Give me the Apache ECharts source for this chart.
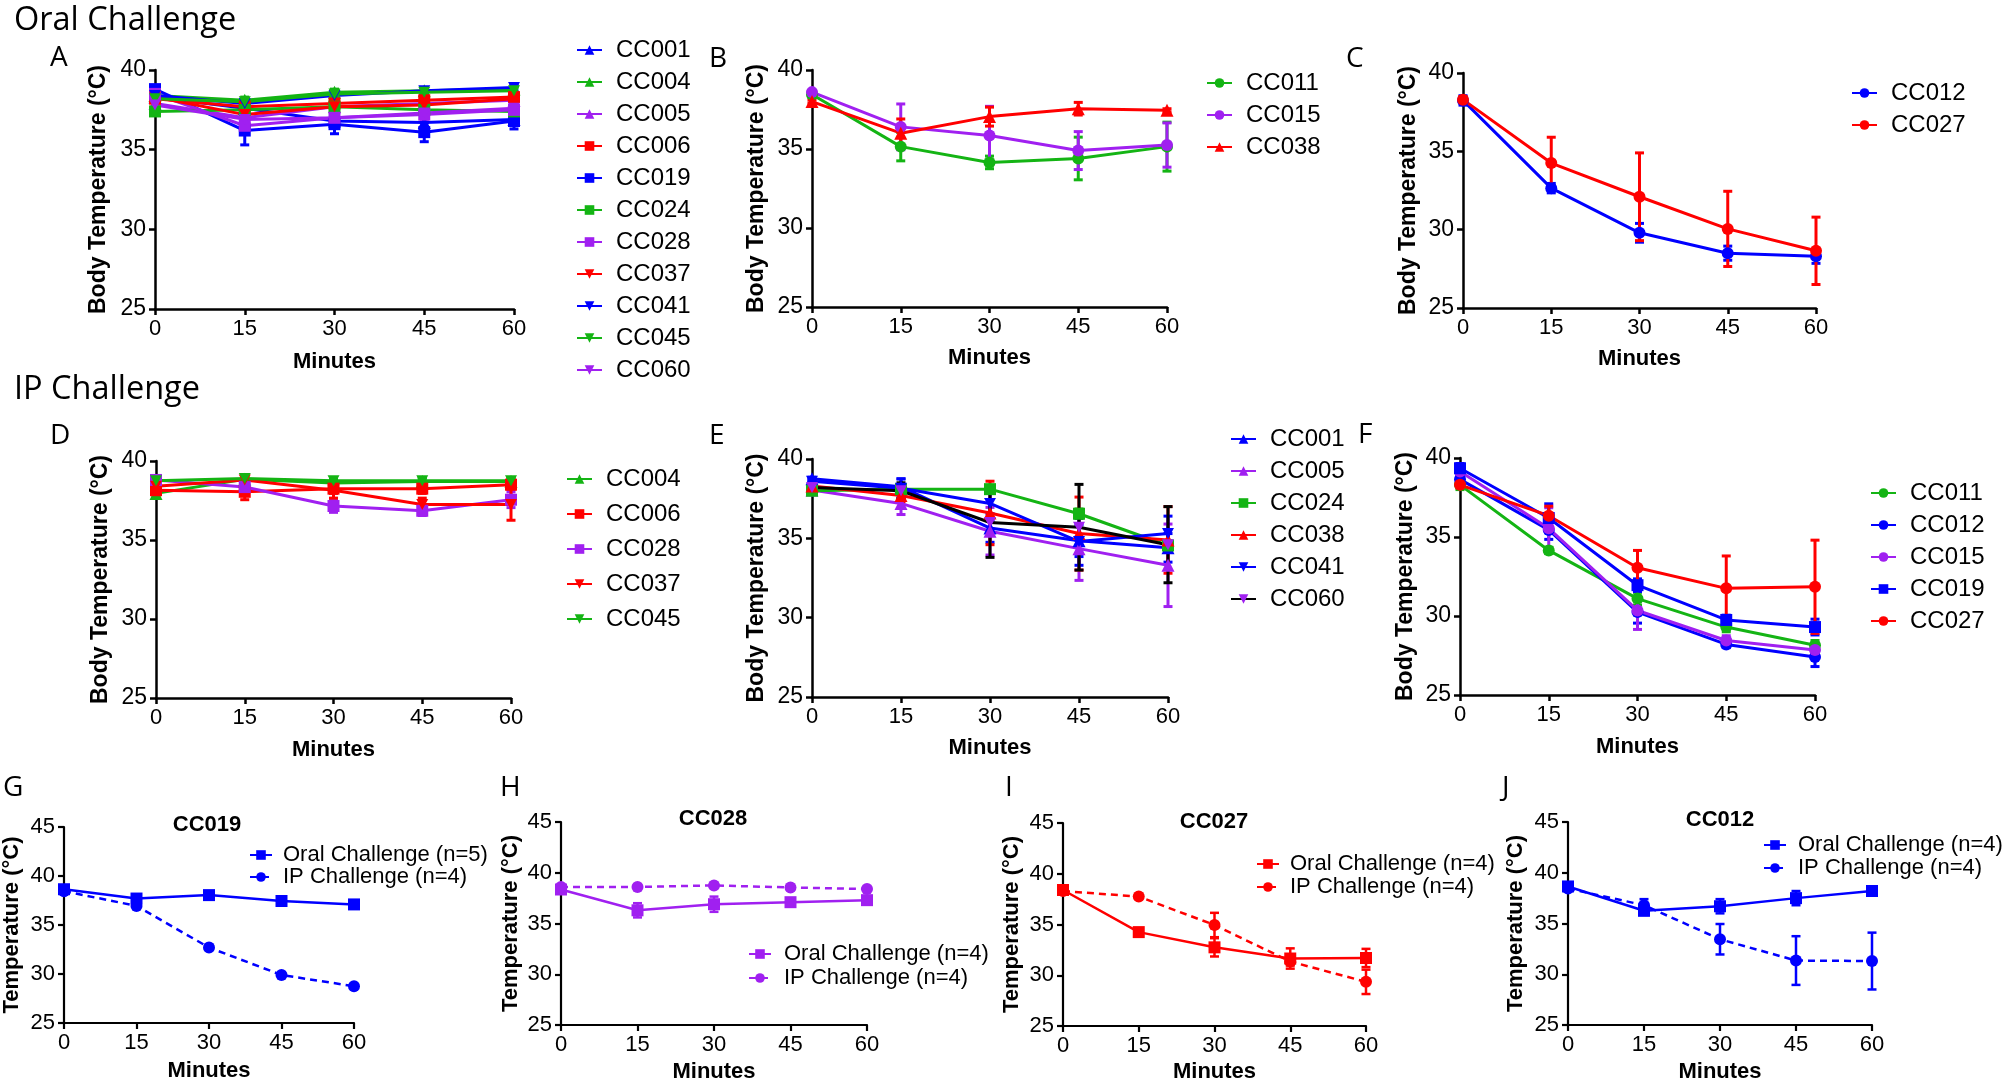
<!DOCTYPE html>
<html><head><meta charset="utf-8">
<script src="https://cdn.jsdelivr.net/npm/echarts@6/dist/echarts.min.js"></script>
<style>html,body{margin:0;padding:0;background:#fff}#c{width:2010px;height:1085px}</style>
</head><body><div id="c"></div>
<script>
// ---------------- DATA ----------------
const minutes = [0, 15, 30, 45, 60];
const xTicks = [0, 15, 30, 45, 60];

// Panel A (Oral challenge)
const A_CC001 = [38.3, 37.6, 36.8, 36.7, 36.9], A_CC001_err = [0.2, 0.3, 0.3, 0.3, 0.3];
const A_CC004 = [38.4, 38.1, 38.6, 38.7, 38.8], A_CC004_err = [0.1, 0.2, 0.2, 0.2, 0.2];
const A_CC005 = [37.9, 37.0, 37.7, 37.9, 38.1], A_CC005_err = [0.2, 0.4, 0.3, 0.3, 0.3];
const A_CC006 = [38.2, 37.7, 37.9, 38.1, 38.3], A_CC006_err = [0.2, 0.2, 0.2, 0.3, 0.3];
const A_CC019 = [38.8, 36.2, 36.6, 36.1, 36.8], A_CC019_err = [0.2, 0.9, 0.6, 0.6, 0.5];
const A_CC024 = [37.4, 37.5, 37.7, 37.5, 37.4], A_CC024_err = [0.1, 0.2, 0.2, 0.2, 0.2];
const A_CC028 = [38.5, 36.5, 37.0, 37.2, 37.5], A_CC028_err = [0.2, 0.4, 0.3, 0.3, 0.3];
const A_CC037 = [38.3, 37.2, 37.7, 37.8, 38.2], A_CC037_err = [0.2, 0.3, 0.3, 0.3, 0.3];
const A_CC041 = [38.4, 37.9, 38.4, 38.7, 38.9], A_CC041_err = [0.2, 0.2, 0.2, 0.2, 0.2];
const A_CC045 = [38.2, 38.0, 38.5, 38.6, 38.7], A_CC045_err = [0.2, 0.2, 0.2, 0.2, 0.2];
const A_CC060 = [37.8, 36.9, 37.0, 37.3, 37.6], A_CC060_err = [0.2, 0.4, 0.3, 0.3, 0.3];
// Panel B
const B_CC011 = [38.45, 35.15, 34.15, 34.4, 35.15], B_CC011_err = [0.2, 0.9, 0.4, 1.35, 1.55];
const B_CC015 = [38.6, 36.4, 35.85, 34.9, 35.25], B_CC015_err = [0.1, 1.45, 1.85, 1.2, 1.4];
const B_CC038 = [38.0, 36.0, 37.05, 37.55, 37.45], B_CC038_err = [0.1, 0.9, 0.6, 0.4, 0.1];
// Panel C
const C_CC012 = [38.25, 32.65, 29.8, 28.5, 28.3], C_CC012_err = [0.3, 0.3, 0.6, 0.45, 0.45];
const C_CC027 = [38.3, 34.25, 32.1, 30.05, 28.65], C_CC027_err = [0.2, 1.65, 2.8, 2.4, 2.15];
// Panel D (IP challenge)
const D_CC004 = [37.95, 38.85, 38.6, 38.7, 38.7], D_CC004_err = [0.1, 0.2, 0.2, 0.2, 0.2];
const D_CC006 = [38.15, 38.05, 38.25, 38.25, 38.5], D_CC006_err = [0.2, 0.5, 0.3, 0.3, 0.3];
const D_CC028 = [38.8, 38.35, 37.15, 36.85, 37.55], D_CC028_err = [0.2, 0.2, 0.4, 0.3, 0.5];
const D_CC037 = [38.4, 38.8, 38.15, 37.25, 37.25], D_CC037_err = [0.1, 0.2, 0.5, 0.4, 1.0];
const D_CC045 = [38.75, 38.9, 38.75, 38.75, 38.75], D_CC045_err = [0.1, 0.2, 0.2, 0.2, 0.2];
// Panel E
const E_CC001 = [38.75, 38.25, 35.65, 34.85, 34.4], E_CC001_err = [0.1, 0.5, 0.9, 1.0, 0.9];
const E_CC005 = [38.05, 37.2, 35.45, 34.35, 33.3], E_CC005_err = [0.1, 0.7, 1.5, 2.0, 2.6];
const E_CC024 = [38.0, 38.1, 38.1, 36.55, 34.55], E_CC024_err = [0.1, 0.2, 0.2, 0.3, 0.3];
const E_CC038 = [38.3, 37.7, 36.6, 35.3, 34.9], E_CC038_err = [0.1, 0.4, 2.0, 2.3, 2.1];
const E_CC041 = [38.6, 38.15, 37.2, 34.8, 35.3], E_CC041_err = [0.1, 0.6, 1.1, 1.5, 1.1];
const E_CC060 = [38.2, 38.0, 36.0, 35.7, 34.6], E_CC060_err = [0.1, 0.5, 2.2, 2.7, 2.4];
// Panel F
const F_CC011 = [38.3, 34.15, 31.1, 29.3, 28.15], F_CC011_err = [0.3, 0.2, 0.4, 0.3, 0.3];
const F_CC012 = [38.65, 35.45, 30.25, 28.2, 27.4], F_CC012_err = [0.2, 0.6, 0.7, 0.2, 0.6];
const F_CC015 = [39.15, 35.55, 30.35, 28.45, 27.85], F_CC015_err = [0.2, 1.3, 1.2, 0.3, 0.2];
const F_CC019 = [39.35, 36.2, 31.95, 29.75, 29.3], F_CC019_err = [0.3, 0.9, 0.4, 0.3, 0.5];
const F_CC027 = [38.3, 36.35, 33.05, 31.75, 31.85], F_CC027_err = [0.2, 0.6, 1.1, 2.05, 2.95];
// Panels G-J (oral vs IP)
const G_oral = [38.65, 37.7, 38.05, 37.45, 37.1], G_oral_err = [0.1, 0.35, 0.2, 0.2, 0.4];
const G_ip = [38.45, 36.95, 32.7, 29.9, 28.75], G_ip_err = [0.1, 0.1, 0.1, 0.1, 0.1];
const H_oral = [38.35, 36.3, 36.9, 37.1, 37.3], H_oral_err = [0.1, 0.7, 0.75, 0.3, 0.2];
const H_ip = [38.6, 38.6, 38.75, 38.55, 38.4], H_ip_err = [0.1, 0.1, 0.1, 0.1, 0.1];
const I_oral = [38.4, 34.25, 32.75, 31.65, 31.7], I_oral_err = [0.1, 0.2, 0.9, 1.0, 0.9];
const I_ip = [38.3, 37.75, 34.95, 31.35, 29.35], I_ip_err = [0.1, 0.1, 1.2, 0.4, 1.2];
const J_oral = [38.65, 36.25, 36.7, 37.5, 38.2], J_oral_err = [0.2, 0.4, 0.7, 0.7, 0.3];
const J_ip = [38.45, 36.8, 33.45, 31.35, 31.3], J_ip_err = [0.2, 0.6, 1.5, 2.4, 2.8];

const topYTicks = [25, 30, 35, 40];
const bottomYTicks = [25, 30, 35, 40, 45];

// ---------------- STYLE ----------------
const BLUE = '#0000ff', GREEN = '#14b414', RED = '#ff0000', PURPLE = '#a020f0', BLACK = '#000000';
const TU = 'triangle', TD = 'path://M0,0L10,0L5,8.7Z', SQ = 'rect', CI = 'circle';
const SANS = '"Liberation Sans", Arial, Helvetica, sans-serif';
const HEAD = '"Open Sans", "Liberation Sans", sans-serif';

function s(name, data, err, color, symbol, extra) {
  return Object.assign({ name, data, err, color, symbol }, extra || {});
}

const panels = [
  { id: 'A', grid: { left: 155, top: 70, width: 359, height: 239 }, yMax: 40, big: true,
    legend: { left: 576, top: 38, gap: 8 }, yGap: 45, xGap: 42,
    series: [s('CC001', A_CC001, A_CC001_err, BLUE, TU), s('CC004', A_CC004, A_CC004_err, GREEN, TU),
      s('CC005', A_CC005, A_CC005_err, PURPLE, TU), s('CC006', A_CC006, A_CC006_err, RED, SQ),
      s('CC019', A_CC019, A_CC019_err, BLUE, SQ), s('CC024', A_CC024, A_CC024_err, GREEN, SQ),
      s('CC028', A_CC028, A_CC028_err, PURPLE, SQ), s('CC037', A_CC037, A_CC037_err, RED, TD),
      s('CC041', A_CC041, A_CC041_err, BLUE, TD), s('CC045', A_CC045, A_CC045_err, GREEN, TD),
      s('CC060', A_CC060, A_CC060_err, PURPLE, TD)] },
  { id: 'B', grid: { left: 812, top: 70, width: 355, height: 237 }, yMax: 40, big: true,
    legend: { left: 1206, top: 71, gap: 8 }, yGap: 44, xGap: 40,
    series: [s('CC011', B_CC011, B_CC011_err, GREEN, CI), s('CC015', B_CC015, B_CC015_err, PURPLE, CI),
      s('CC038', B_CC038, B_CC038_err, RED, TU)] },
  { id: 'C', grid: { left: 1463, top: 73, width: 353, height: 235 }, yMax: 40, big: true,
    legend: { left: 1851, top: 81, gap: 8 }, yGap: 43, xGap: 40,
    series: [s('CC012', C_CC012, C_CC012_err, BLUE, CI), s('CC027', C_CC027, C_CC027_err, RED, CI)] },
  { id: 'D', grid: { left: 156, top: 461, width: 355, height: 237 }, yMax: 40, big: true,
    legend: { left: 566, top: 467, gap: 11 }, yGap: 44, xGap: 41,
    series: [s('CC004', D_CC004, D_CC004_err, GREEN, TU), s('CC006', D_CC006, D_CC006_err, RED, SQ),
      s('CC028', D_CC028, D_CC028_err, PURPLE, SQ), s('CC037', D_CC037, D_CC037_err, RED, TD),
      s('CC045', D_CC045, D_CC045_err, GREEN, TD)] },
  { id: 'E', grid: { left: 812, top: 459, width: 356, height: 238 }, yMax: 40, big: true,
    legend: { left: 1230, top: 427, gap: 8 }, yGap: 44, xGap: 40,
    series: [s('CC001', E_CC001, E_CC001_err, BLUE, TU), s('CC005', E_CC005, E_CC005_err, PURPLE, TU),
      s('CC024', E_CC024, E_CC024_err, GREEN, SQ), s('CC038', E_CC038, E_CC038_err, RED, TU),
      s('CC041', E_CC041, E_CC041_err, BLUE, TD), s('CC060', E_CC060, E_CC060_err, PURPLE, TD, { lineColor: BLACK })] },
  { id: 'F', grid: { left: 1460, top: 458, width: 355, height: 237 }, yMax: 40, big: true,
    legend: { left: 1870, top: 481, gap: 8 }, yGap: 43, xGap: 41,
    series: [s('CC011', F_CC011, F_CC011_err, GREEN, CI), s('CC012', F_CC012, F_CC012_err, BLUE, CI),
      s('CC015', F_CC015, F_CC015_err, PURPLE, CI), s('CC019', F_CC019, F_CC019_err, BLUE, SQ),
      s('CC027', F_CC027, F_CC027_err, RED, CI)] },
  { id: 'G', grid: { left: 61, top: 827, width: 293, height: 196 }, yMax: 45, big: false,
    legend: { left: 249, top: 844, gap: 0, pad: 6 }, yGap: 41, xGap: 37,
    series: [s('Oral Challenge (n=5)', G_oral, G_oral_err, BLUE, SQ), s('IP Challenge (n=4)', G_ip, G_ip_err, BLUE, CI, { dashed: true })] },
  { id: 'H', grid: { left: 561, top: 822, width: 306, height: 203 }, yMax: 45, big: false,
    legend: { left: 748, top: 943, gap: 2, pad: 8 }, yGap: 39, xGap: 36,
    series: [s('Oral Challenge (n=4)', H_oral, H_oral_err, PURPLE, SQ), s('IP Challenge (n=4)', H_ip, H_ip_err, PURPLE, CI, { dashed: true })] },
  { id: 'I', grid: { left: 1063, top: 823, width: 303, height: 203 }, yMax: 45, big: false,
    legend: { left: 1256, top: 853, gap: 1, pad: 6 }, yGap: 40, xGap: 35,
    series: [s('Oral Challenge (n=4)', I_oral, I_oral_err, RED, SQ), s('IP Challenge (n=4)', I_ip, I_ip_err, RED, CI, { dashed: true })] },
  { id: 'J', grid: { left: 1568, top: 822, width: 304, height: 203 }, yMax: 45, big: false,
    legend: { left: 1763, top: 834, gap: 1, pad: 7 }, yGap: 41, xGap: 36,
    series: [s('Oral Challenge (n=4)', J_oral, J_oral_err, BLUE, SQ), s('IP Challenge (n=4)', J_ip, J_ip_err, BLUE, CI, { dashed: true })] }
];

const texts = [
  { t: 'Oral Challenge', x: 14, y: 21, f: `normal 32.5px ${HEAD}`, a: 'left' },
  { t: 'IP Challenge', x: 14, y: 390, f: `normal 32.5px ${HEAD}`, a: 'left' },
  { t: 'A', x: 50, y: 58, f: `normal 28px ${HEAD}`, a: 'left' },
  { t: 'B', x: 709, y: 59, f: `normal 28px ${HEAD}`, a: 'left' },
  { t: 'C', x: 1346, y: 59, f: `normal 28px ${HEAD}`, a: 'left' },
  { t: 'D', x: 50, y: 436, f: `normal 28px ${HEAD}`, a: 'left' },
  { t: 'E', x: 709, y: 436, f: `normal 28px ${HEAD}`, a: 'left' },
  { t: 'F', x: 1358, y: 435, f: `normal 28px ${HEAD}`, a: 'left' },
  { t: 'G', x: 3, y: 788, f: `normal 28px ${HEAD}`, a: 'left' },
  { t: 'H', x: 500, y: 788, f: `normal 28px ${HEAD}`, a: 'left' },
  { t: 'I', x: 1005, y: 788, f: `normal 28px ${HEAD}`, a: 'left' },
  { t: 'J', x: 1502, y: 788, f: `normal 28px ${HEAD}`, a: 'left' },
  { t: 'CC019', x: 207, y: 825, f: `bold 22px ${SANS}`, a: 'center' },
  { t: 'CC028', x: 713, y: 819, f: `bold 22px ${SANS}`, a: 'center' },
  { t: 'CC027', x: 1214, y: 822, f: `bold 22px ${SANS}`, a: 'center' },
  { t: 'CC012', x: 1720, y: 820, f: `bold 22px ${SANS}`, a: 'center' }
];

// ---------------- BUILD ----------------
function errRender(color, lw, cap) {
  return function (params, api) {
    const x = api.value(0), lo = api.value(1), hi = api.value(2);
    const a = api.coord([x, hi]), b = api.coord([x, lo]);
    const st = { stroke: color, lineWidth: lw };
    return { type: 'group', children: [
      { type: 'line', shape: { x1: a[0], y1: a[1], x2: b[0], y2: b[1] }, style: st },
      { type: 'line', shape: { x1: a[0] - cap, y1: a[1], x2: a[0] + cap, y2: a[1] }, style: st },
      { type: 'line', shape: { x1: b[0] - cap, y1: b[1], x2: b[0] + cap, y2: b[1] }, style: st }
    ] };
  };
}

const option = { animation: false, backgroundColor: '#fff', grid: [], xAxis: [], yAxis: [], series: [], legend: [], graphic: [] };

panels.forEach((p, i) => {
  const big = p.big;
  const fs = 22;
  option.grid.push(Object.assign({ containLabel: false }, p.grid));
  const axisLine = { show: true, lineStyle: { color: '#000', width: big ? 2.5 : 2.2 } };
  const axisTick = { show: true, inside: false, length: 6, lineStyle: { color: '#000', width: big ? 2.5 : 2.2 } };
  option.xAxis.push({ type: 'value', gridIndex: i, min: xTicks[0], max: xTicks[xTicks.length - 1], interval: 15,
    axisLine, axisTick, splitLine: { show: false },
    axisLabel: { color: '#000', fontSize: fs, fontFamily: SANS, margin: 9 },
    name: 'Minutes', nameLocation: 'middle', nameGap: p.xGap,
    nameTextStyle: { color: '#000', fontWeight: 'bold', fontSize: 22, fontFamily: SANS } });
  const yt = p.yMax === 40 ? topYTicks : bottomYTicks;
  option.yAxis.push({ type: 'value', gridIndex: i, min: yt[0], max: yt[yt.length - 1], interval: 5,
    axisLine, axisTick, splitLine: { show: false },
    axisLabel: { color: '#000', fontSize: big ? 23 : 22, fontFamily: SANS, margin: 9 },
    name: big ? 'Body Temperature (°C)' : 'Temperature (°C)', nameLocation: 'middle', nameGap: p.yGap,
    nameTextStyle: { color: '#000', fontWeight: 'bold', fontSize: big ? 23 : 22, fontFamily: SANS } });

  const names = [];
  p.series.forEach(se => {
    const nm = p.id + ':' + se.name;
    names.push(nm);
    const lw = big ? 3 : 2.5;
    option.series.push({ type: 'custom', name: nm + ' err', xAxisIndex: i, yAxisIndex: i, z: 2, clip: false,
      renderItem: errRender(se.lineColor || se.color, lw, 4.5),
      encode: { x: 0, y: [1, 2] },
      data: minutes.map((m, k) => [m, se.data[k] - se.err[k], se.data[k] + se.err[k]]) });
    const sz = se.symbol === TD ? [12, 11] : (se.symbol === CI ? 12 : (se.symbol === SQ ? 12 : 13));
    option.series.push({ type: 'line', name: nm, xAxisIndex: i, yAxisIndex: i, z: 3,
      data: minutes.map((m, k) => [m, se.data[k]]),
      symbol: se.symbol, symbolSize: sz, showAllSymbol: true,
      itemStyle: { color: se.color },
      lineStyle: { color: se.lineColor || se.color, width: big ? 3 : 2.5, type: se.dashed ? [7, 5] : 'solid' } });
  });
  const lh = big ? 24 : 22;
  option.legend.push({ show: true, orient: 'vertical', left: p.legend.left, top: p.legend.top,
    itemGap: p.legend.gap, itemWidth: big ? 25 : 22, itemHeight: big ? 12 : 12, padding: 0,
    selectedMode: false, data: names,
    formatter: n => n.slice(n.indexOf(':') + 1),
    textStyle: { color: '#000', fontSize: big ? 24 : 22, fontFamily: SANS, lineHeight: lh,
      padding: [0, 0, 0, big ? 9 : (p.legend.pad || 6)] } });
});

texts.forEach(t => {
  option.graphic.push({ type: 'text', x: t.x, y: t.y, silent: true,
    style: { text: t.t, font: t.f, fill: '#000', align: t.a, verticalAlign: 'middle',
      textAlign: t.a, textVerticalAlign: 'middle' } });
});

const chart = echarts.init(document.getElementById('c'), null, { renderer: 'canvas' });
chart.setOption(option);
</script></body></html>
